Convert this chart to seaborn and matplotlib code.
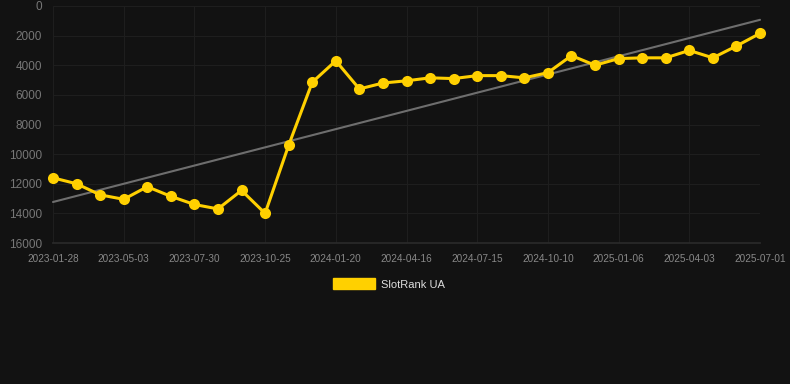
import matplotlib
matplotlib.use("Agg")
import matplotlib.pyplot as plt
import numpy as np
import pandas as pd
import seaborn as sns
from matplotlib.patches import Patch

# monthly rank values (lower = better)
ranks = [11600, 12000, 12750, 13050, 12200, 12850, 13400, 13700, 12450, 14000,
         9400, 5150, 3700, 5600, 5200, 5050, 4850, 4900, 4700, 4700,
         4850, 4500, 3350, 4000, 3550, 3500, 3500, 3000, 3500, 2700, 1850]
tick_labels = ["2023-01-28", "2023-05-03", "2023-07-30", "2023-10-25", "2024-01-20",
               "2024-04-16", "2024-07-15", "2024-10-10", "2025-01-06", "2025-04-03",
               "2025-07-01"]
y_ticks = [0, 2000, 4000, 6000, 8000, 10000, 12000, 14000, 16000]
series_name = "SlotRank UA"

df = pd.DataFrame({"idx": np.arange(len(ranks)), "rank": ranks})

bg = "#121212"
yellow = "#FFD000"

sns.set_theme(style="dark", rc={
    "figure.facecolor": bg,
    "axes.facecolor": bg,
    "axes.edgecolor": bg,
    "grid.color": "#1e1e1e",
})
plt.rcParams["font.family"] = ["Liberation Sans", "DejaVu Sans"]

fig = plt.figure(figsize=(7.9, 3.84), dpi=100)
ax = fig.add_axes([53 / 790, 1 - 243 / 384, 707 / 790, 237 / 384])

# trend line (linear fit of the series)
sns.regplot(data=df, x="idx", y="rank", scatter=False, ci=None, truncate=True,
            line_kws={"color": "#6e6e6e", "linewidth": 1.5}, ax=ax)

sns.lineplot(data=df, x="idx", y="rank", color=yellow, linewidth=2.2,
             marker="o", markersize=8, markeredgewidth=0, ax=ax)
for ln in ax.lines:
    ln.set_clip_on(False)

ax.set_xlim(0, len(ranks) - 1)
ax.set_ylim(16000, 0)
ax.set_yticks(y_ticks)
ax.set_yticklabels([str(v) for v in y_ticks])
ax.set_xticks(np.arange(0, len(ranks), 3))
ax.set_xticklabels(tick_labels)
ax.set_xlabel("")
ax.set_ylabel("")
ax.grid(True, color="#1e1e1e", linewidth=0.8)
ax.tick_params(axis="y", colors="#777777", labelsize=8.5, length=0, pad=8)
ax.tick_params(axis="x", colors="#888888", labelsize=7.2, length=0, pad=8)
ax.spines["bottom"].set_visible(True)
ax.spines["bottom"].set_color("#2a2a2a")
for s in ["left", "right", "top"]:
    ax.spines[s].set_visible(False)

handle = Patch(facecolor=yellow, edgecolor=yellow)
fig.legend([handle], [series_name], loc="center", bbox_to_anchor=(389 / 790, 1 - 284 / 384),
           frameon=False, fontsize=8, labelcolor="#dddddd",
           handlelength=3.7, handleheight=1.1, handletextpad=0.55)

fig.savefig("out.png", dpi=100, facecolor=bg)
